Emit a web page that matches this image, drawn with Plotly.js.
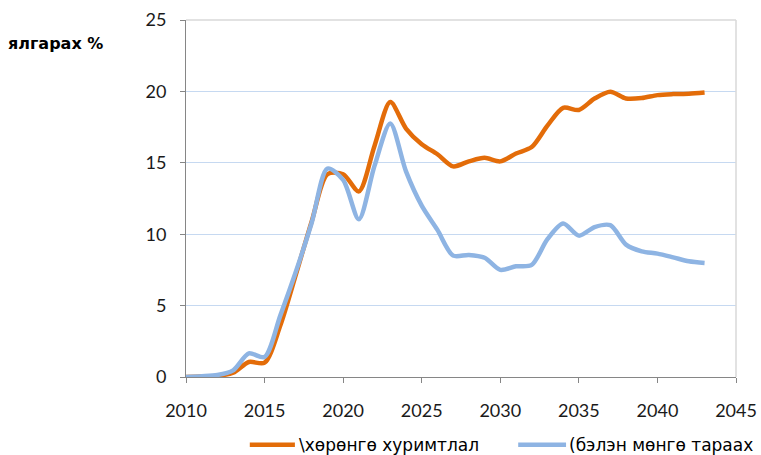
<!DOCTYPE html>
<html>
<head>
<meta charset="utf-8">
<script src="https://cdn.plot.ly/plotly-3.0.1.min.js"></script>
<style>html,body{margin:0;padding:0;background:#fff;}#chart{width:761px;height:455px;}</style>
</head>
<body>
<div id="chart"></div>
<script>
var years = [2010,2011,2012,2013,2014,2015,2016,2017,2018,2019,2020,2021,2022,2023,2024,2025,2026,2027,2028,2029,2030,2031,2032,2033,2034,2035,2036,2037,2038,2039,2040,2041,2042,2043];
var assetAccum = [0,0.03,0.08,0.3,1.05,1.0,3.6,7.2,10.9,14.2,14.2,13.0,16.2,19.25,17.4,16.3,15.6,14.75,15.1,15.35,15.1,15.65,16.1,17.6,18.85,18.7,19.5,19.98,19.5,19.53,19.74,19.81,19.84,19.93];
var cashDistrib = [0,0.05,0.14,0.47,1.65,1.4,4.3,7.4,10.8,14.6,13.8,11.05,14.8,17.75,14.4,12.0,10.3,8.5,8.55,8.35,7.5,7.75,7.85,9.65,10.75,9.9,10.5,10.63,9.27,8.8,8.64,8.38,8.1,7.99];
var seriesNames = ["\\хөрөнгө хуримтлал", "(бэлэн мөнгө тараах"];
var seriesColors = ['#E36C09', '#8EB4E3'];
var xTicks = [2010,2015,2020,2025,2030,2035,2040,2045];
var yTicks = [0,5,10,15,20,25];
var yTitle = 'ялгарах %';

var series = [assetAccum, cashDistrib];
var traces = series.map(function (vals, i) {
  return {x: years, y: vals, name: seriesNames[i], type: 'scatter', mode: 'lines',
          line: {color: seriesColors[i], width: 4.5, shape: 'spline', smoothing: 0.8}};
});

// custom legend (paper coordinates)
var legendY = -0.19;
var legendItems = [
  {x0: 0.116, x1: 0.198, tx: 0.202},
  {x0: 0.604, x1: 0.691, tx: 0.693}
];
var shapes = [
  {type: 'line', xref: 'paper', yref: 'paper', x0: 0, x1: 1, y0: 1, y1: 1, line: {color: '#D9D9D9', width: 1.5}},
  {type: 'line', xref: 'paper', yref: 'paper', x0: 1, x1: 1, y0: 0, y1: 1, line: {color: '#D9D9D9', width: 1.5}}
];
var annotations = [
  {text: '<b>' + yTitle + '</b>', xref: 'paper', yref: 'paper', x: -0.327, y: 0.933, xanchor: 'left', yanchor: 'middle',
   showarrow: false, font: {family: 'DejaVu Sans, sans-serif', size: 16, color: '#000'}}
];
legendItems.forEach(function (it, i) {
  shapes.push({type: 'line', xref: 'paper', yref: 'paper', x0: it.x0, x1: it.x1, y0: legendY, y1: legendY,
               line: {color: seriesColors[i], width: 4.5}});
  annotations.push({text: seriesNames[i], xref: 'paper', yref: 'paper', x: it.tx, y: legendY,
                    xanchor: 'left', yanchor: 'middle', showarrow: false,
                    font: {family: 'DejaVu Sans, sans-serif', size: 17, color: '#000'}});
});

var layout = {
  width: 761, height: 455,
  margin: {l: 186, r: 25, t: 20, b: 78},
  paper_bgcolor: '#ffffff', plot_bgcolor: '#ffffff',
  showlegend: false,
  xaxis: {range: [2010, 2045], tickvals: xTicks, ticktext: xTicks.map(String),
          showgrid: false, zeroline: false, showline: true, linecolor: '#868686', linewidth: 1,
          ticks: 'outside', ticklen: 5, tickcolor: '#868686', ticklabelstandoff: 12,
          tickfont: {family: 'Lato, sans-serif', size: 18, color: '#1a1a1a'}, fixedrange: true},
  yaxis: {range: [0, 25], tickvals: yTicks, ticktext: yTicks.map(String),
          showgrid: true, gridcolor: '#C6D9F1', gridwidth: 1, zeroline: false,
          showline: true, linecolor: '#868686', linewidth: 1,
          ticks: 'outside', ticklen: 5, tickcolor: '#868686', ticklabelstandoff: 10,
          tickfont: {family: 'Lato, sans-serif', size: 18, color: '#1a1a1a'}, fixedrange: true},
  shapes: shapes,
  annotations: annotations
};

Plotly.newPlot('chart', traces, layout, {displayModeBar: false, staticPlot: true});
</script>
</body>
</html>
